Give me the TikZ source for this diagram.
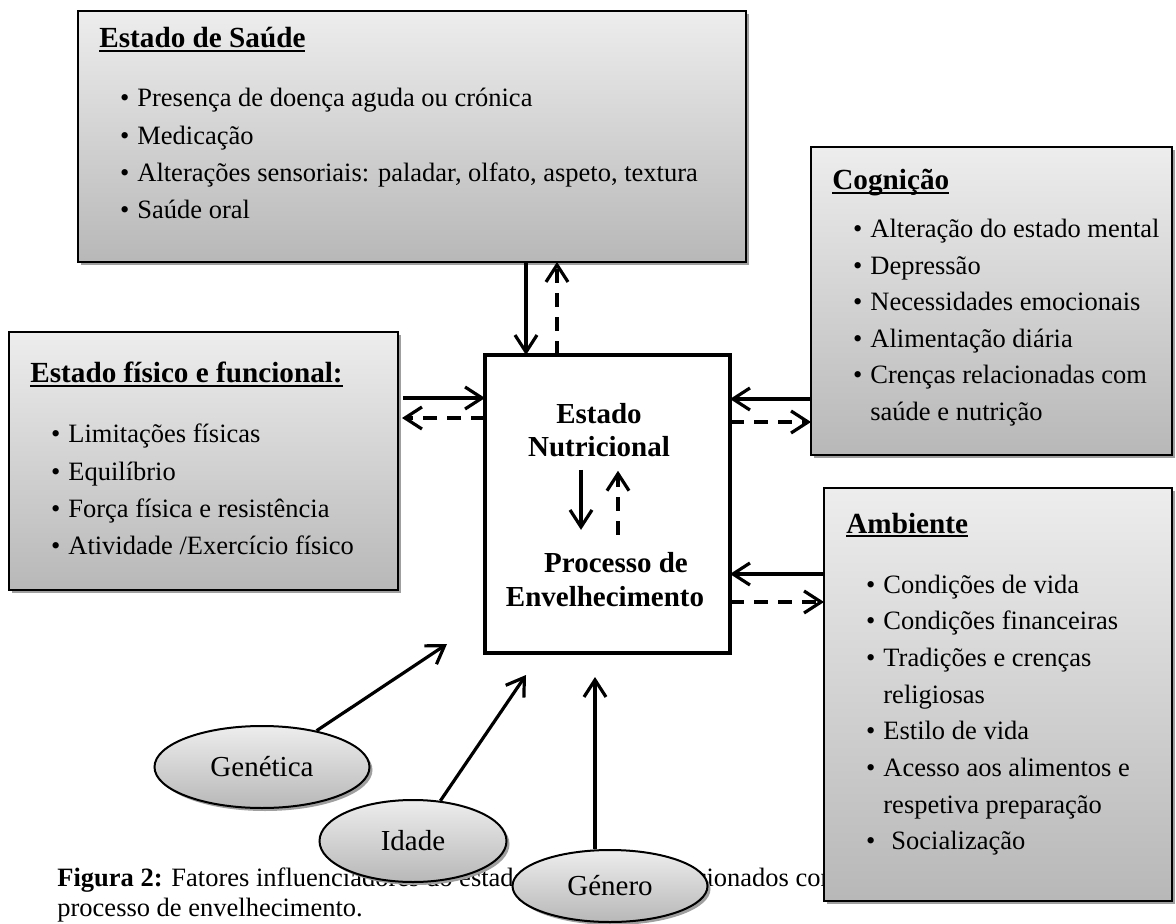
\documentclass[tikz,border=0pt]{standalone}
\usepackage{fontspec}
\setmainfont{Liberation Serif}
\usetikzlibrary{arrows.meta,calc,shadows,shapes.geometric}

\newcommand\bul{\llap{\textbullet\hspace{4pt}}}
\newcommand\undertitle[1]{\setbox0\hbox{#1}\rlap{\rule[-2pt]{\wd0}{1pt}}\box0}

\tikzset{
    factor diagram/.style = {x=0.5pt, y=-0.5pt},
    flow/.style       = {-{Straight Barb[length=8.5pt, width=11pt]}, line width=1.6pt},
    feedback/.style   = {flow, dash pattern=on 7pt off 5pt},
    shade box/.style  = {draw, line width=1pt, top color=gray!14, bottom color=gray!56,
                         drop shadow={shadow xshift=1.5pt, shadow yshift=-1.5pt,
                                      fill=gray!75, opacity=1}},
    factor/.style     = {shade box, anchor=north west, inner sep=0pt, outer sep=0pt},
    core/.style       = {draw, line width=2pt, fill=white, anchor=north west,
                         inner sep=0pt, outer sep=0pt},
    oval/.style       = {shade box, ellipse, inner sep=0pt,
                         font=\fontsize{14.5}{16}\selectfont},
    heading/.style    = {anchor=base west, inner sep=0pt,
                         font=\fontsize{14.6}{17}\selectfont\bfseries},
    item/.style       = {anchor=base west, inner sep=0pt,
                         font=\fontsize{13.25}{16}\selectfont},
    core text/.style  = {anchor=base, align=center, inner sep=0pt,
                         font=\fontsize{14.5}{16.8}\selectfont\bfseries}
}

\begin{document}
\begin{tikzpicture}[factor diagram]
\useasboundingbox[fill=white] (0,0) rectangle (1176,924);

% Caption, partly hidden behind the ovals and the environment box
\node[item, align=left, font=\fontsize{13.25}{15}\selectfont] (caption) at (57,916)
    {\textbf{Figura 2:} Fatores influenciadores do estado nutricional relacionados com o\\
     processo de envelhecimento.};

% Factor boxes
\node[factor, minimum width=334pt, minimum height=125.5pt] (saude) at (78,11) {};
\node[factor, minimum width=194.5pt, minimum height=129pt] (fisico) at (9,332) {};
\node[factor, minimum width=180.5pt, minimum height=154pt] (cogn) at (811,147) {};
\node[factor, minimum width=174pt, minimum height=206.5pt] (amb) at (824,488) {};

\node[heading] (saude-t) at ($(saude.north west)+(21,37)$) {\undertitle{Estado de Saúde}};
\foreach \txt [count=\i from 0] in {Presença de doença aguda ou crónica, Medicação,
        {Alterações sensoriais: paladar, olfato, aspeto, textura}, Saúde oral}
    \node[item] (saude-\i) at ($(saude.north west)+(59,96+37.3*\i)$) {\bul\txt};

\node[heading] (fisico-t) at ($(fisico.north west)+(21,51)$)
    {\undertitle{Estado físico e funcional:}};
\foreach \txt [count=\i from 0] in {Limitações físicas, Equilíbrio,
        Força física e resistência, Atividade /Exercício físico}
    \node[item] (fisico-\i) at ($(fisico.north west)+(59,111+37.3*\i)$) {\bul\txt};

\node[heading] (cogn-t) at ($(cogn.north west)+(21,43)$) {\undertitle{Cognição}};
\foreach \txt [count=\i from 0] in {\bul Alteração do estado mental, \bul Depressão,
        \bul Necessidades emocionais, \bul Alimentação diária,
        \bul Crenças relacionadas com, saúde e nutrição}
    \node[item] (cogn-\i) at ($(cogn.north west)+(59,91+36.5*\i)$) {\txt};

\node[heading] (amb-t) at ($(amb.north west)+(22,45)$) {\undertitle{Ambiente}};
\foreach \txt [count=\i from 0] in {\bul Condições de vida, \bul Condições financeiras,
        \bul Tradições e crenças, religiosas, \bul Estilo de vida,
        \bul Acesso aos alimentos e, respetiva preparação, \bul\hspace{4pt}Socialização}
    \node[item] (amb-\i) at ($(amb.north west)+(59,105+36.7*\i)$) {\txt};

% Central box
\node[core, minimum width=122.5pt, minimum height=149pt] (nut) at (485,355) {};
\node[core text] (estado) at (599,457) {Estado\\Nutricional};
\node[core text] (proc) at (605,606) {\hspace*{11pt}Processo de\\Envelhecimento};
\draw[flow, shorten <=6pt, shorten >=11pt]
    ([xshift=-9pt]estado.south) -- ([xshift=-9pt]estado.south |- proc.north);
\draw[feedback, shorten <=8.5pt, shorten >=6.5pt]
    ([xshift=9.5pt]estado.south |- proc.north) -- ([xshift=9.5pt]estado.south);

% Exchanges with the factor boxes
\coordinate (saude-in)  at ([xshift=20.5pt]nut.north west);
\coordinate (saude-out) at ([xshift=36pt]nut.north west);
\coordinate (fisico-in)  at ([yshift=-21.5pt]nut.north west);
\coordinate (fisico-out) at ([yshift=-31.5pt]nut.north west);
\coordinate (cogn-in)  at ([yshift=-22pt]nut.north east);
\coordinate (cogn-out) at ([yshift=-33.5pt]nut.north east);
\coordinate (amb-in)  at ([yshift=-109.5pt]nut.north east);
\coordinate (amb-out) at ([yshift=-123.5pt]nut.north east);

\draw[flow] (saude.south -| saude-in) -- (saude-in);
\draw[feedback] (saude-out) -- (saude.south -| saude-out);
\draw[flow, shorten <=2.5pt] (fisico.east |- fisico-in) -- (fisico-in);
\draw[feedback, shorten >=2pt] (fisico-out) -- (fisico.east |- fisico-out);
\draw[flow] (cogn.west |- cogn-in) -- (cogn-in);
\draw[feedback] (cogn-out) -- (cogn.west |- cogn-out);
\draw[flow] (amb.west |- amb-in) -- (amb-in);
\draw[feedback] (amb-out) -- (amb.west |- amb-out);

% Ovals and their arrows
\node[oval, minimum width=107.5pt, minimum height=41pt] (gen) at (262,767) {Genética};
\node[oval, minimum width=93.5pt, minimum height=41pt] (idade) at (413,841) {Idade};
\node[oval, minimum width=97.5pt, minimum height=36pt] (genero) at (610,886) {Género};

\coordinate (gen-tip) at (447,644);
\coordinate (idade-tip) at (526,675);
\coordinate (genero-tip) at (595,677);
\draw[flow] (gen) -- (gen-tip);
\draw[flow] (idade) -- (idade-tip);
\draw[flow] (genero.north -| genero-tip) -- (genero-tip);

\end{tikzpicture}
\end{document}
